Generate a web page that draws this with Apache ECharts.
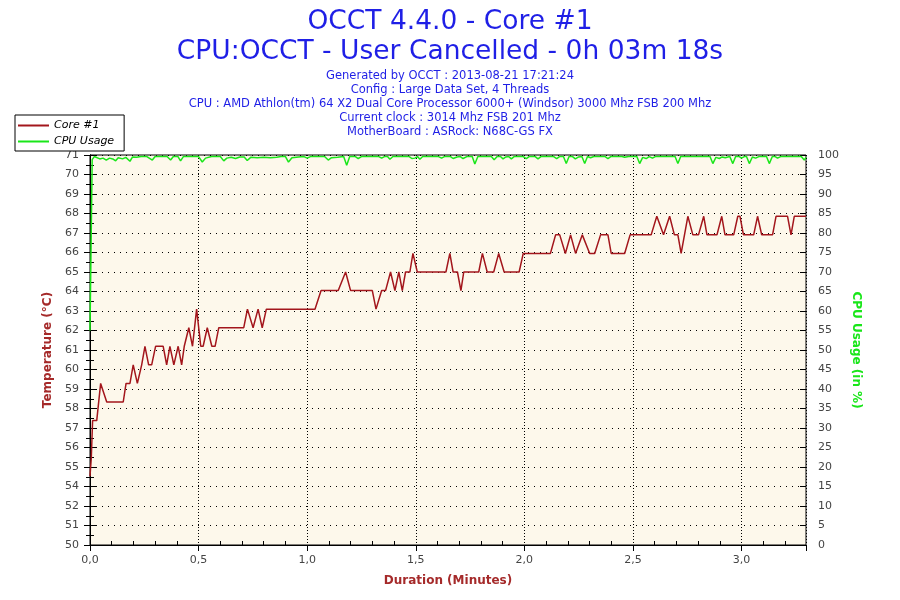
<!DOCTYPE html>
<html>
<head>
<meta charset="utf-8">
<title>OCCT 4.4.0 - Core #1</title>
<script src="https://cdn.jsdelivr.net/npm/echarts@6/dist/echarts.min.js"></script>
<style>
  html, body { margin: 0; padding: 0; background: #fff; }
  #chart { width: 900px; height: 600px; }
</style>
</head>
<body>
<div id="chart"></div>
<script>
// Core #1 temperature (°C), time in minutes
var tempTime = [0, 0.006, 0.012, 0.031, 0.049, 0.057, 0.077, 0.153, 0.166, 0.184, 0.199, 0.218, 0.238, 0.253, 0.270,
    0.284, 0.302, 0.337, 0.353, 0.368, 0.386, 0.406, 0.422, 0.434, 0.441, 0.455, 0.472, 0.491, 0.510, 0.521,
    0.540, 0.561, 0.576, 0.593, 0.708, 0.725, 0.751, 0.774, 0.793, 0.812, 1.036, 1.044, 1.064, 1.143, 1.177,
    1.200, 1.300, 1.317, 1.343, 1.361, 1.384, 1.404, 1.422, 1.438, 1.453, 1.473, 1.487, 1.507, 1.639, 1.657,
    1.672, 1.692, 1.708, 1.721, 1.790, 1.807, 1.829, 1.859, 1.882, 1.907, 1.976, 1.995, 2.120, 2.144, 2.163,
    2.189, 2.213, 2.236, 2.267, 2.301, 2.324, 2.351, 2.385, 2.400, 2.462, 2.487, 2.584, 2.610, 2.619, 2.641,
    2.669, 2.691, 2.707, 2.722, 2.753, 2.776, 2.802, 2.826, 2.841, 2.887, 2.909, 2.924, 2.964, 2.983, 2.993,
    3.009, 3.056, 3.074, 3.093, 3.143, 3.159, 3.212, 3.228, 3.243, 3.297];
var tempValue = [54, 55, 57, 57, 59, 59, 58, 58, 59, 59, 60, 59, 60, 61, 60,
    60, 61, 61, 60, 61, 60, 61, 60, 61, 61, 62, 61, 63, 61, 61,
    62, 61, 61, 62, 62, 63, 62, 63, 62, 63, 63, 63, 64, 64, 65,
    64, 64, 63, 64, 64, 65, 64, 65, 64, 65, 65, 66, 65, 65, 66,
    65, 65, 64, 65, 65, 66, 65, 65, 66, 65, 65, 66, 66, 67, 67,
    66, 67, 66, 67, 66, 66, 67, 67, 66, 66, 67, 67, 68, 68, 67,
    68, 67, 67, 66, 68, 67, 67, 68, 67, 67, 68, 67, 67, 68, 68,
    67, 67, 68, 67, 67, 68, 68, 67, 68, 68];

// CPU usage (%), time in minutes
var cpuTime = [0, 0.010, 0.020, 0.045, 0.060, 0.075, 0.090, 0.105, 0.118, 0.130, 0.150, 0.165, 0.184, 0.196, 0.215,
    0.235, 0.262, 0.287, 0.300, 0.355, 0.371, 0.384, 0.405, 0.417, 0.430, 0.500, 0.517, 0.532, 0.560, 0.600,
    0.616, 0.630, 0.650, 0.670, 0.690, 0.710, 0.724, 0.740, 0.770, 0.800, 0.830, 0.860, 0.880, 0.900, 0.914,
    0.930, 0.960, 0.985, 1.000, 1.015, 1.080, 1.097, 1.112, 1.140, 1.168, 1.182, 1.196, 1.222, 1.235, 1.250,
    1.330, 1.343, 1.356, 1.370, 1.381, 1.395, 1.470, 1.482, 1.496, 1.508, 1.519, 1.532, 1.605, 1.619, 1.632,
    1.660, 1.672, 1.690, 1.705, 1.718, 1.735, 1.760, 1.772, 1.786, 1.848, 1.861, 1.875, 1.890, 1.902, 1.915,
    1.928, 1.940, 1.953, 1.995, 2.009, 2.022, 2.050, 2.063, 2.076, 2.135, 2.149, 2.162, 2.180, 2.193, 2.206,
    2.222, 2.235, 2.250, 2.265, 2.278, 2.291, 2.305, 2.320, 2.372, 2.385, 2.398, 2.450, 2.462, 2.480, 2.518,
    2.531, 2.545, 2.561, 2.575, 2.590, 2.603, 2.694, 2.707, 2.720, 2.855, 2.868, 2.882, 2.898, 2.911, 2.925,
    2.946, 2.960, 2.973, 2.990, 3.000, 3.013, 3.023, 3.036, 3.050, 3.065, 3.080, 3.115, 3.128, 3.142, 3.155,
    3.166, 3.180, 3.275, 3.289, 3.297];
var cpuValue = [55, 98.8, 99.6, 99.0, 99.2, 98.7, 99.2, 99.0, 98.5, 99.3, 99.0, 99.4, 98.4, 99.5, 99.4,
    99.6, 99.6, 98.7, 99.6, 99.6, 98.7, 99.6, 99.6, 98.5, 99.6, 99.6, 98.2, 99.2, 99.6, 99.6,
    98.5, 99.2, 99.4, 99.1, 99.5, 99.5, 98.6, 99.4, 99.3, 99.4, 99.3, 99.4, 99.6, 99.6, 98.2,
    99.3, 99.5, 99.6, 99.2, 99.6, 99.6, 98.7, 99.3, 99.4, 99.6, 97.4, 99.6, 99.6, 99.1, 99.6,
    99.6, 99.2, 99.6, 99.6, 98.9, 99.6, 99.6, 99.1, 99.2, 99.6, 98.9, 99.6, 99.6, 99.2, 99.6,
    99.6, 99.1, 99.5, 99.6, 99.1, 99.6, 99.6, 97.7, 99.6, 99.6, 98.8, 99.6, 99.6, 99.0, 99.5,
    99.6, 99.0, 99.6, 99.6, 99.1, 99.6, 99.6, 99.0, 99.6, 99.6, 99.1, 99.6, 99.6, 97.8, 99.6,
    99.6, 99.0, 99.5, 99.6, 97.8, 99.6, 99.3, 99.6, 99.6, 99.1, 99.6, 99.6, 99.4, 99.6, 99.6,
    97.8, 99.4, 99.1, 99.6, 99.2, 99.6, 99.6, 97.8, 99.6, 99.6, 97.8, 99.4, 99.1, 99.5, 99.3,
    99.6, 97.8, 99.6, 99.6, 99.2, 99.6, 99.6, 97.8, 99.5, 99.2, 99.6, 99.6, 97.8, 99.6, 99.6,
    99.2, 99.6, 99.6, 98.7, 99.4];

// left axis tick labels as printed by OCCT (one per 5 % step of the right axis)
var tempTickLabels = ['50', '51', '52', '54', '55', '56', '57', '58', '59', '60', '61',
    '62', '63', '64', '65', '66', '67', '68', '69', '70', '71'];

var titleLines = ['OCCT 4.4.0 - Core #1', 'CPU:OCCT - User Cancelled - 0h 03m 18s'];
var infoLines = [
    'Generated by OCCT : 2013-08-21 17:21:24',
    'Config : Large Data Set, 4 Threads',
    'CPU : AMD Athlon(tm) 64 X2 Dual Core Processor 6000+ (Windsor) 3000 Mhz FSB 200 Mhz',
    'Current clock : 3014 Mhz FSB 201 Mhz',
    'MotherBoard : ASRock: N68C-GS FX'
];
var minorTimeTicks = [0.1, 0.2, 0.3, 0.4, 0.6, 0.7, 0.8, 0.9, 1.1, 1.2, 1.3, 1.4, 1.6, 1.7, 1.8, 1.9,
    2.1, 2.2, 2.3, 2.4, 2.6, 2.7, 2.8, 2.9, 3.1, 3.2];

var FONT = 'DejaVu Sans';
var BLUE = '#1f1fe6';
var RED = '#a3161c';
var GREEN = '#19e619';
var NAME_RED = '#a52a2a';

function zip(a, b) {
    var out = [];
    for (var i = 0; i < a.length; i++) out.push([a[i], b[i]]);
    return out;
}

var titles = [
    { text: titleLines[0], left: 'center', top: 4, textStyle: { fontFamily: FONT, fontSize: 26.5, fontWeight: 'normal', color: BLUE } },
    { text: titleLines[1], left: 'center', top: 34, textStyle: { fontFamily: FONT, fontSize: 26.5, fontWeight: 'normal', color: BLUE } }
];
infoLines.forEach(function (line, i) {
    titles.push({
        text: line, left: 'center', top: 70 + i * 14.1, padding: 0,
        textStyle: { fontFamily: FONT, fontSize: 11.5, fontWeight: 'normal', color: BLUE }
    });
});

var labelStyle = { fontFamily: FONT, fontSize: 11, color: '#444' };
var blackLine = { lineStyle: { color: '#000', width: 1 } };

var option = {
    animation: false,
    backgroundColor: '#fff',
    title: titles,
    legend: {
        left: 15, top: 115, orient: 'vertical',
        backgroundColor: '#fff', borderColor: '#000', borderWidth: 1, borderRadius: 0,
        padding: [5, 10, 4, 3], itemGap: 5, itemWidth: 31, itemHeight: 13,
        icon: 'path://M0,0 L31,0 L31,2 L0,2 Z',
        textStyle: { fontFamily: FONT, fontSize: 11, fontStyle: 'italic', color: '#000' },
        data: ['Core #1', 'CPU Usage']
    },
    grid: {
        left: 90, right: 94, top: 155, bottom: 55,
        show: true, backgroundColor: '#fdf8eb', borderColor: '#000', borderWidth: 1
    },
    xAxis: [{
        type: 'value', min: 0, max: 3.297, interval: 0.5,
        name: 'Duration (Minutes)', nameLocation: 'middle', nameGap: 30,
        nameTextStyle: { fontFamily: FONT, fontSize: 12, fontWeight: 'bold', color: NAME_RED },
        axisLine: blackLine,
        axisTick: { length: 6, lineStyle: { color: '#000' } },
        axisLabel: Object.assign({ margin: 10, showMaxLabel: false, formatter: function (v) { return v.toFixed(1).replace('.', ','); } }, labelStyle),
        splitLine: { show: true, lineStyle: { color: '#000', type: [1, 2], width: 1 } }
    }, {
        type: 'value', min: 0, max: 3.297, interval: 0.5,
        axisLine: { show: false }, axisLabel: { show: false }, splitLine: { show: false },
        axisTick: { inside: true, length: 6, lineStyle: { color: '#000' } }
    }, {
        type: 'value', min: 0, max: 3.297,
        axisLine: { show: false }, axisLabel: { show: false }, splitLine: { show: false },
        axisTick: { customValues: minorTimeTicks, length: 4, lineStyle: { color: '#000' } }
    }],
    yAxis: [{
        // temperature scale used by the Core #1 line
        type: 'value', min: 50.3, max: 71.3, position: 'left', show: false
    }, {
        type: 'value', min: 0, max: 100, interval: 5, position: 'right',
        name: 'CPU Usage (in %)', nameLocation: 'middle', nameGap: 37, nameRotate: -90,
        nameTextStyle: { fontFamily: FONT, fontSize: 12, fontWeight: 'bold', color: GREEN },
        axisLine: blackLine,
        axisTick: { length: 6, lineStyle: { color: '#000' } },
        minorTick: { show: true, splitNumber: 2, length: 4, lineStyle: { color: '#000' } },
        axisLabel: Object.assign({ margin: 12 }, labelStyle),
        splitLine: { show: true, lineStyle: { color: '#000', type: [1, 5], width: 1 } }
    }, {
        // left labels, aligned with the right axis steps
        type: 'value', min: 0, max: 100, interval: 5, position: 'left',
        name: 'Temperature (°C)', nameLocation: 'middle', nameGap: 33,
        nameTextStyle: { fontFamily: FONT, fontSize: 12, fontWeight: 'bold', color: NAME_RED },
        axisLine: blackLine,
        axisTick: { length: 6, lineStyle: { color: '#000' } },
        minorTick: { show: true, splitNumber: 2, length: 4, lineStyle: { color: '#000' } },
        axisLabel: Object.assign({ margin: 11, formatter: function (v) { return tempTickLabels[Math.round(v / 5)]; } }, labelStyle),
        splitLine: { show: false }
    }, {
        type: 'value', min: 0, max: 100, interval: 5, position: 'left',
        axisLine: { show: false }, axisLabel: { show: false }, splitLine: { show: false },
        axisTick: { inside: true, length: 6, lineStyle: { color: '#000' } }
    }, {
        type: 'value', min: 0, max: 100, interval: 5, position: 'right',
        axisLine: { show: false }, axisLabel: { show: false }, splitLine: { show: false },
        axisTick: { inside: true, length: 6, lineStyle: { color: '#000' } }
    }],
    series: [{
        name: 'Core #1', type: 'line', xAxisIndex: 0, yAxisIndex: 0,
        data: zip(tempTime, tempValue), symbol: 'none', z: 3,
        lineStyle: { color: RED, width: 1.5 }, itemStyle: { color: RED }
    }, {
        name: 'CPU Usage', type: 'line', xAxisIndex: 0, yAxisIndex: 1,
        data: zip(cpuTime, cpuValue), symbol: 'none', z: 3,
        lineStyle: { color: GREEN, width: 1.5 }, itemStyle: { color: GREEN }
    }]
};

var myChart = echarts.init(document.getElementById('chart'));
myChart.setOption(option);
</script>
</body>
</html>
